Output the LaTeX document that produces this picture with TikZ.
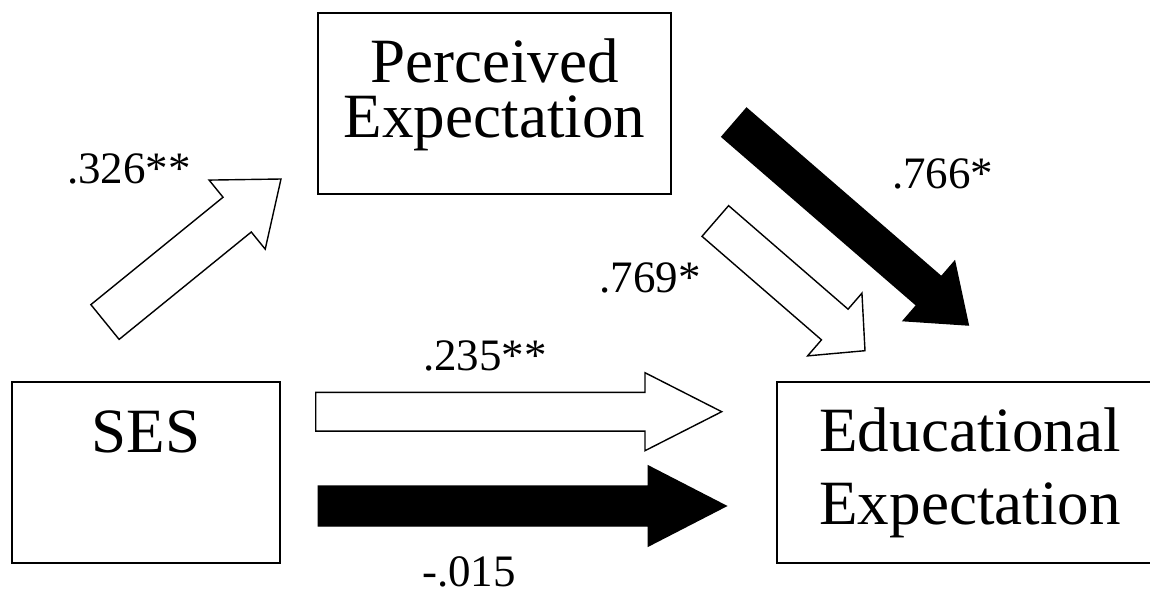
\documentclass[tikz,border=0pt]{standalone}
\usepackage{fontspec}
\setmainfont{Liberation Serif}
\usetikzlibrary{calc}

% block arrow: style, tail, tip, half shaft width, half head width, head length
\newcommand{\blockarrow}[6]{%
  \coordinate (hb) at ($(#3)!#6!(#2)$);
  \draw[#1] ($(#2)!#4!90:(#3)$) -- ($(hb)!#4!90:(#3)$) -- ($(hb)!#5!90:(#3)$) -- (#3)
    -- ($(hb)!#5!-90:(#3)$) -- ($(hb)!#4!-90:(#3)$) -- ($(#2)!#4!-90:(#3)$) -- cycle;
}

\begin{document}
\begin{tikzpicture}[x=0.02cm,y=-0.02cm,
    box/.style={draw=black,line width=1pt,inner sep=0pt,align=center,minimum height=3.62cm,font=\fontsize{35.9}{41.7}\selectfont},
    lab/.style={anchor=base west,inner sep=0pt,font=\fontsize{25.6}{30}\selectfont},
    whitearr/.style={draw=black,line width=0.8pt,fill=white,line join=miter},
    blackarr/.style={draw=black,line width=0.8pt,fill=black,line join=miter}
    ]
    \useasboundingbox (0,0) rectangle (1150,592);
    \node[box,minimum width=7.06cm,text height=1.368cm,text depth=0pt,font=\fontsize{35.9}{31.5}\selectfont] (pe) at (494.5,103.5) {Perceived\\Expectation};
    \node[box,minimum width=5.36cm,text height=0pt,text depth=0.792cm] (ses) at (146,472.5) {SES};
    \node[box,minimum width=7.72cm,text height=2.1cm,text depth=0pt] (ee) at (970,472.5) {Educational\\Expectation};
    % arrow ends
    \coordinate (a1s) at (105,322);
    \coordinate (a1e) at (281,179);
    \coordinate (a2s) at (734.2,122.5);
    \coordinate (a2e) at (968.3,325);
    \coordinate (a3s) at (715.3,221);
    \coordinate (a3e) at (865,350.7);
    \coordinate (a4s) at (315.7,411.7);
    \coordinate (a4e) at (721.7,411.7);
    \coordinate (a5s) at (318.3,506);
    \coordinate (a5e) at (726,506);
    \blockarrow{whitearr}{a1s}{a1e}{0.448cm}{0.89cm}{1.13cm}
    \blockarrow{blackarr}{a2s}{a2e}{0.378cm}{0.785cm}{1.04cm}
    \blockarrow{whitearr}{a3s}{a3e}{0.406cm}{0.83cm}{0.8cm}
    \blockarrow{whitearr}{a4s}{a4e}{0.387cm}{0.78cm}{1.534cm}
    \blockarrow{blackarr}{a5s}{a5e}{0.4cm}{0.8cm}{1.554cm}
    % coefficients
    \node[lab] (l1) at (66.7,183) {.326**};
    \node[lab] (l2) at (891.7,188) {.766*};
    \node[lab] (l3) at (599,292) {.769*};
    \node[lab] (l4) at (422.7,370) {.235**};
    \node[lab] (l5) at (421.7,586.7) {-.015};
\end{tikzpicture}
\end{document}
